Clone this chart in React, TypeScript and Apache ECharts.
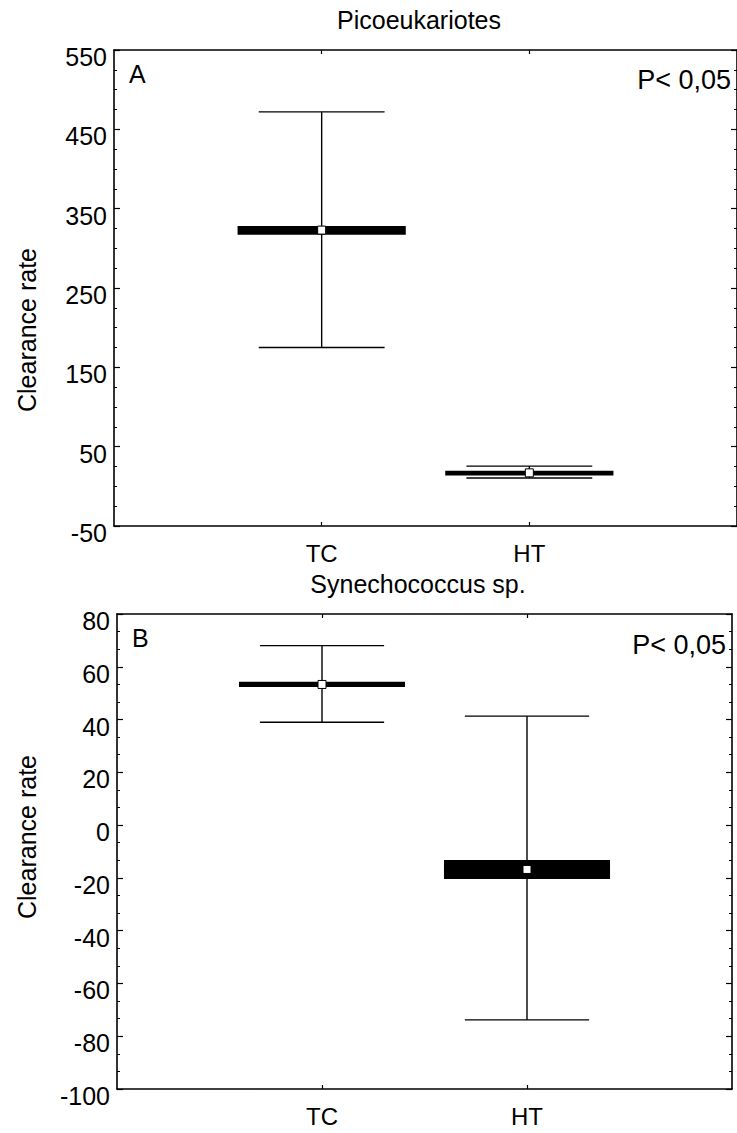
import React, { useEffect, useRef } from "react";
import * as echarts from "echarts";

// Category slots: empty slots at both ends put TC and HT at 1/3 and 2/3 of the width
const categories = ["", "TC", "HT", ""];
const groups = ["TC", "HT"];

// Picoeukariotes: mean, box (low/high) and whisker (low/high)
const picoMean = [323, 17];
const picoBoxLow = [317, 13.5];
const picoBoxHigh = [328, 19.5];
const picoWhiskerLow = [175, 10.5];
const picoWhiskerHigh = [472, 25.5];

// Synechococcus sp.
const synMean = [53.3, -16.8];
const synBoxLow = [52.3, -20.4];
const synBoxHigh = [54.3, -13.2];
const synWhiskerLow = [39, -73.8];
const synWhiskerHigh = [68, 41.3];

// Y-axis ranges and tick steps
const picoAxis = { min: -50, max: 550, interval: 100, minorSplit: 4 };
const synAxis = { min: -100, max: 80, interval: 20, minorSplit: 3 };

const FONT = "'Liberation Sans', Arial, Helvetica, sans-serif";

function buildData(mean: number[], bl: number[], bh: number[], wl: number[], wh: number[]) {
  return groups.map((g, i) => [categories.indexOf(g), mean[i], bl[i], bh[i], wl[i], wh[i]]);
}

function renderItem(params: any, api: any) {
  const x = api.value(0);
  const mean = api.value(1);
  const center = api.coord([x, mean]);
  const band = Math.abs(api.coord([2, mean])[0] - api.coord([1, mean])[0]);
  const boxHalf = band * 0.405;
  const capHalf = band * 0.303;
  const cx = center[0];
  const yBL = api.coord([x, api.value(2)])[1];
  const yBH = api.coord([x, api.value(3)])[1];
  const yWL = api.coord([x, api.value(4)])[1];
  const yWH = api.coord([x, api.value(5)])[1];
  const stroke = { stroke: "#000", lineWidth: 1.4 };
  const boxTop = Math.min(yBL, yBH);
  const boxH = Math.max(Math.abs(yBL - yBH), 3);
  return {
    type: "group",
    children: [
      { type: "line", shape: { x1: cx, y1: yWH, x2: cx, y2: yWL }, style: stroke },
      { type: "line", shape: { x1: cx - capHalf, y1: yWH, x2: cx + capHalf, y2: yWH }, style: stroke },
      { type: "line", shape: { x1: cx - capHalf, y1: yWL, x2: cx + capHalf, y2: yWL }, style: stroke },
      {
        type: "rect",
        shape: { x: cx - boxHalf, y: boxTop, width: boxHalf * 2, height: boxH },
        style: { fill: "#000" },
      },
      {
        type: "rect",
        shape: { x: cx - 4, y: center[1] - 4, width: 8, height: 8 },
        style: { fill: "#fff", stroke: "#000", lineWidth: 1 },
      },
    ],
  };
}

const showCat = (i: number) => i === 1 || i === 2;

function xAxes(gridIndex: number) {
  const line = { show: true, onZero: false, lineStyle: { color: "#000", width: 1.6 } };
  return [
    {
      gridIndex,
      type: "category",
      data: categories,
      boundaryGap: false,
      position: "bottom",
      axisLine: line,
      axisTick: { show: true, inside: true, length: 4, interval: showCat, lineStyle: { color: "#000", width: 1.2 } },
      axisLabel: { interval: showCat, color: "#000", fontSize: 24, fontFamily: FONT, margin: 15 },
      splitLine: { show: false },
    },
    {
      gridIndex,
      type: "category",
      data: categories,
      boundaryGap: false,
      position: "top",
      axisLine: line,
      axisTick: { show: true, inside: true, length: 4, interval: showCat, lineStyle: { color: "#000", width: 1.2 } },
      axisLabel: { show: false },
      splitLine: { show: false },
    },
  ];
}

function yAxes(gridIndex: number, ax: { min: number; max: number; interval: number; minorSplit: number }) {
  const common = {
    gridIndex,
    type: "value",
    min: ax.min,
    max: ax.max,
    interval: ax.interval,
    axisLine: { show: true, onZero: false, lineStyle: { color: "#000", width: 1.6 } },
    axisTick: { show: true, inside: true, length: 6, lineStyle: { color: "#000", width: 1.2 } },
    minorTick: { show: true, splitNumber: ax.minorSplit, length: 3, lineStyle: { color: "#000", width: 1 } },
    splitLine: { show: false },
    minorSplitLine: { show: false },
  };
  return [
    {
      ...common,
      position: "left",
      axisLabel: {
        color: "#000",
        fontSize: 25,
        fontFamily: FONT,
        margin: 7,
        verticalAlign: "top",
        lineHeight: 14,
      },
    },
    { ...common, position: "right", axisLabel: { show: false } },
  ];
}

function textEl(text: string, x: number, y: number, align: string, size: number, extra: any = {}) {
  return {
    type: "text",
    x,
    y,
    ...extra,
    style: {
      text,
      fill: "#000",
      font: `${size}px ${FONT}`,
      textAlign: align,
      textVerticalAlign: "middle",
    },
  };
}

export default function App() {
  const ref = useRef<HTMLDivElement>(null);

  useEffect(() => {
    if (!ref.current) return;
    const chart = echarts.init(ref.current, null, { renderer: "svg" });
    chart.setOption({
      animation: false,
      backgroundColor: "#fff",
      grid: [
        { left: 114, top: 50, width: 623, height: 476, containLabel: false },
        { left: 117, top: 614, width: 615, height: 475, containLabel: false },
      ],
      xAxis: [...xAxes(0), ...xAxes(1)],
      yAxis: [...yAxes(0, picoAxis), ...yAxes(1, synAxis)],
      series: [
        {
          type: "custom",
          name: "Picoeukariotes",
          xAxisIndex: 0,
          yAxisIndex: 0,
          clip: false,
          renderItem,
          data: buildData(picoMean, picoBoxLow, picoBoxHigh, picoWhiskerLow, picoWhiskerHigh),
        },
        {
          type: "custom",
          name: "Synechococcus sp.",
          xAxisIndex: 2,
          yAxisIndex: 2,
          clip: false,
          renderItem,
          data: buildData(synMean, synBoxLow, synBoxHigh, synWhiskerLow, synWhiskerHigh),
        },
      ],
      graphic: [
        textEl("Picoeukariotes", 419, 20, "center", 25),
        textEl("Synechococcus sp.", 418, 584, "center", 25),
        textEl("A", 129, 74, "left", 25),
        textEl("B", 132, 638, "left", 25),
        textEl("P< 0,05", 731, 80, "right", 27),
        textEl("P< 0,05", 726, 645, "right", 27),
        textEl("Clearance rate", 27, 330, "center", 25, { rotation: Math.PI / 2 }),
        textEl("Clearance rate", 27, 837, "center", 25, { rotation: Math.PI / 2 }),
      ],
    });
    return () => chart.dispose();
  }, []);

  return (
    <div
      ref={ref}
      style={{ position: "absolute", left: 0, top: 0, width: 737, height: 1133, background: "#fff" }}
    />
  );
}
